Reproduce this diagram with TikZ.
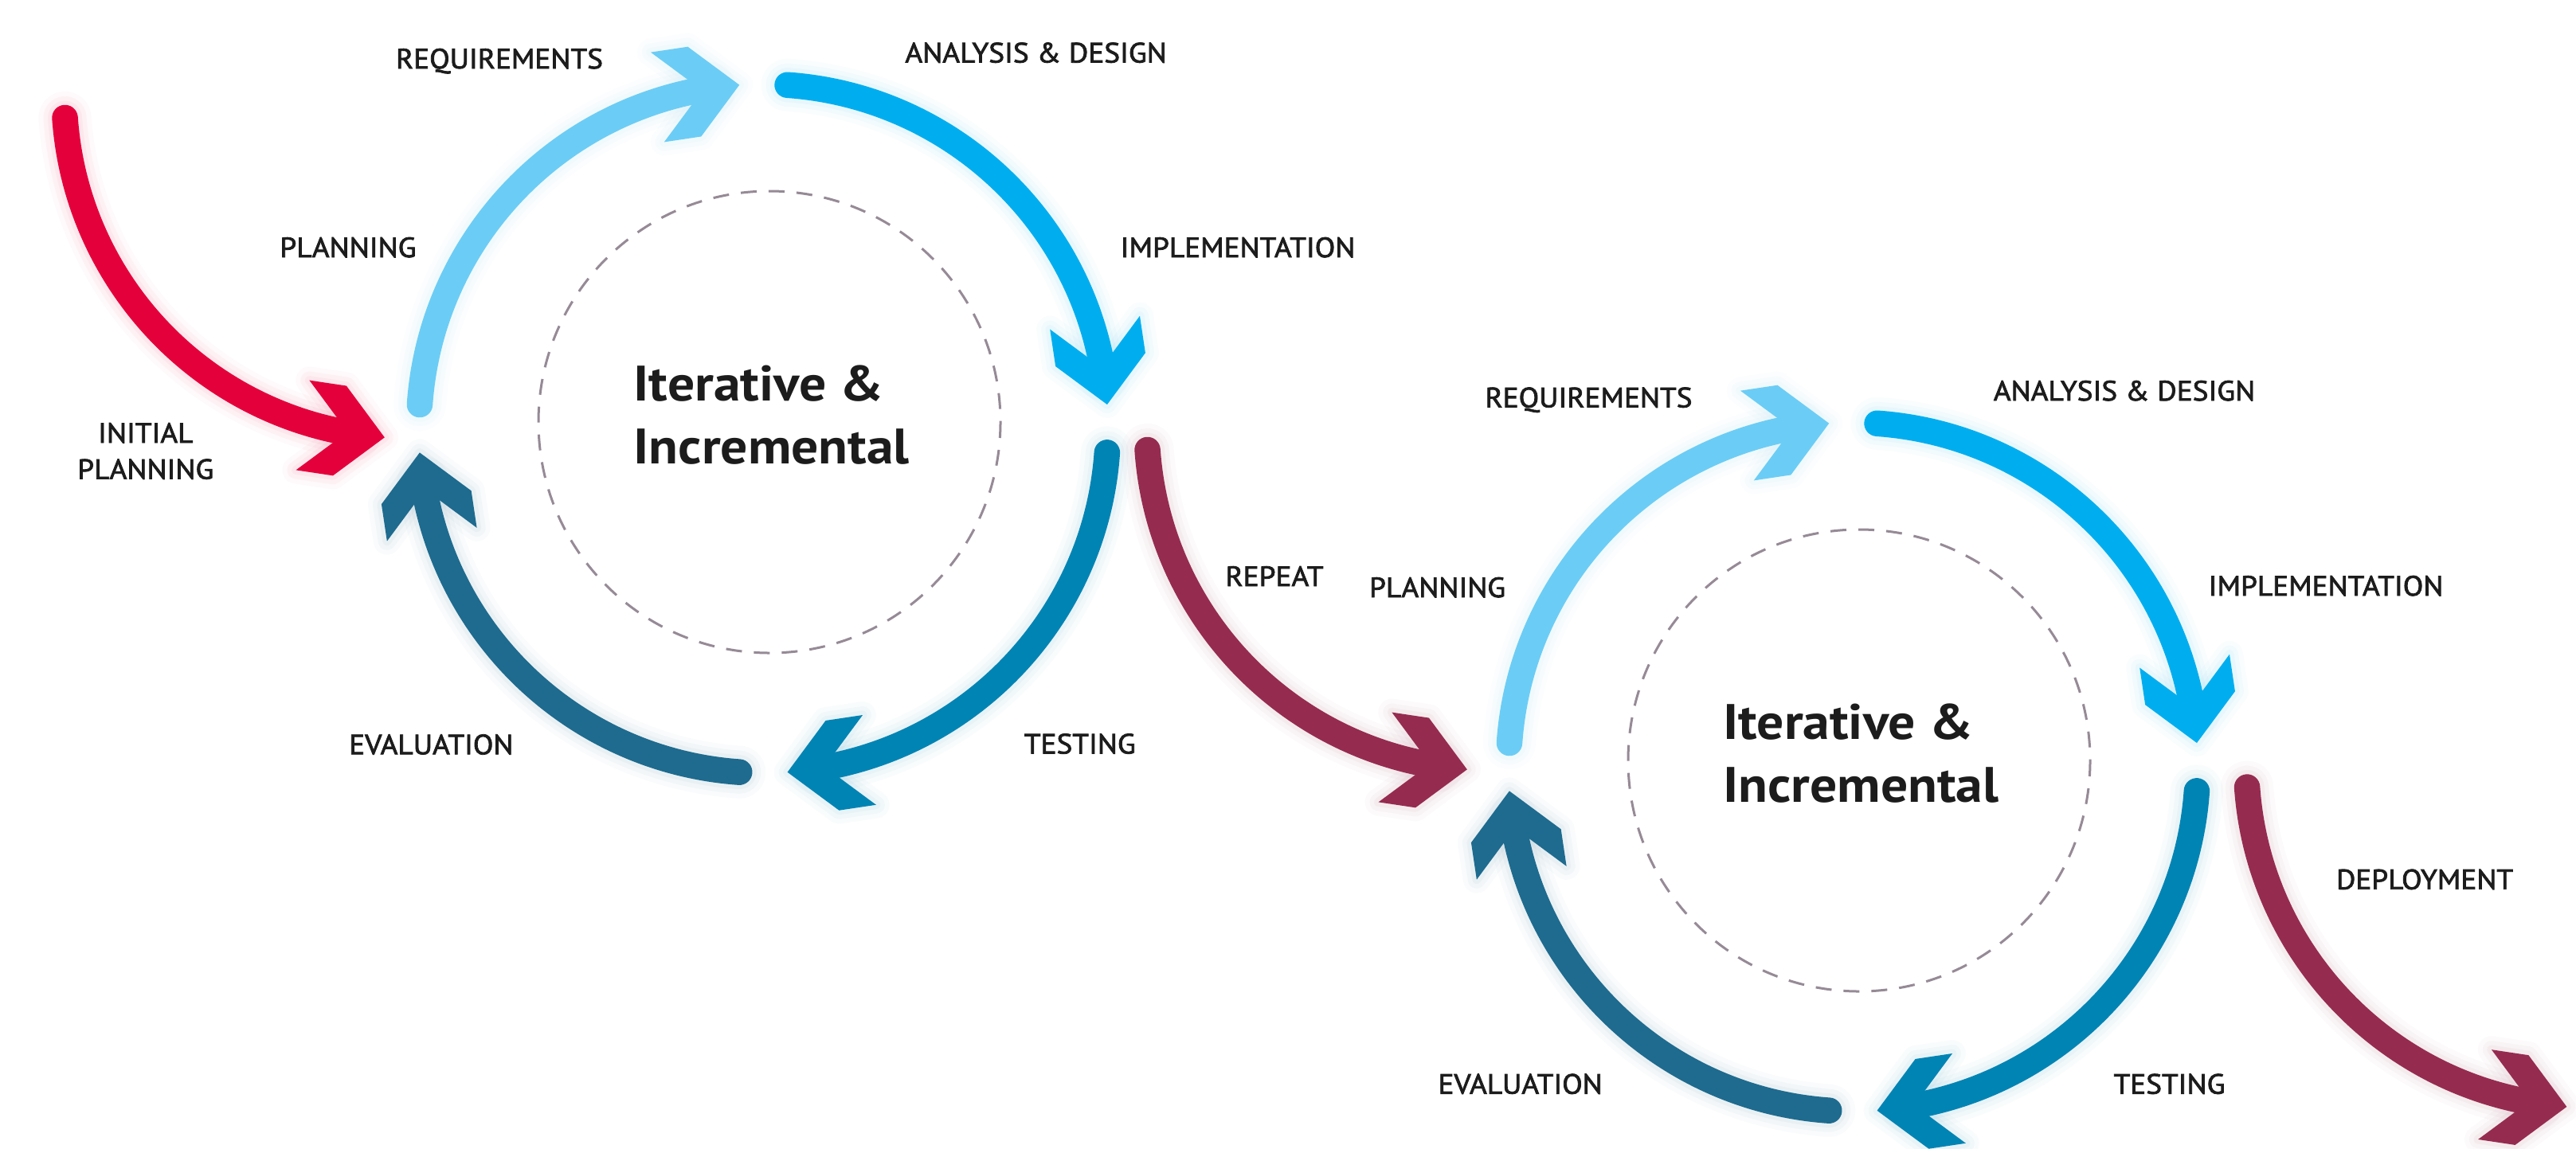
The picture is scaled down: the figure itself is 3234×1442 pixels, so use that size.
\documentclass[tikz,border=0pt]{standalone}
\usepackage{fontspec}
\setmainfont{PT Sans}
\newfontfamily\lblfont[FakeBold=2.2, FakeStretch=1.06]{PT Sans}
\newfontfamily\ttlfont[FakeStretch=1.08]{PT Sans}
\definecolor{cLB}{HTML}{6BCDF5}
\definecolor{cDB}{HTML}{00AEEF}
\definecolor{cTE}{HTML}{0084B4}
\definecolor{cEV}{HTML}{1E6B8F}
\definecolor{cRED}{HTML}{E4003B}
\definecolor{cMAR}{HTML}{962B50}
\definecolor{cDASH}{HTML}{968A96}
\definecolor{cTXT}{HTML}{1C1C1C}
\tikzset{
  arcline/.style={line width=0.325cm, line cap=round},
  glow/.style={preaction={draw=#1, opacity=0.025, line width=0.66cm, line cap=round},
               preaction={draw=#1, opacity=0.03, line width=0.54cm, line cap=round},
               preaction={draw=#1, opacity=0.04, line width=0.43cm, line cap=round}},
  glowfill/.style={preaction={draw=#1, opacity=0.025, line width=0.34cm, line join=round},
                   preaction={draw=#1, opacity=0.03, line width=0.22cm, line join=round},
                   preaction={draw=#1, opacity=0.04, line width=0.11cm, line join=round}},
  lbl/.style={anchor=base, inner sep=0pt, text=cTXT, font=\lblfont\fontsize{10pt}{11pt}\selectfont},
  ttl/.style={anchor=base west, inner sep=0pt, text=cTXT, font=\ttlfont\bfseries\fontsize{17.8pt}{22pt}\selectfont},
  dashcirc/.style={draw=cDASH, line width=0.03cm, dash pattern=on 0.2cm off 0.15cm}
}
% one arc of a cycle: circle of radius 432.5 around the cycle centre
\newcommand\cyclearc[4]{% centre, rotation, colour, name
  \begin{scope}[shift={(#1)}, rotate=#2]
    \coordinate (#4-s) at (184:432.5);
    \coordinate (#4-t) at (266:432.6);
    \draw[arcline, draw=#3, glow=#3] (#4-s) arc[start angle=184, end angle=261, radius=432.5];
    \fill[#3, glowfill=#3, shift={(#4-t)}, rotate=8.5] (0,0) -- (-57,-57) -- (-104,-57) -- (-47,0) -- (-104,57) -- (-57,57) -- cycle;
  \end{scope}}
% entry / repeat / deployment arrow
\newcommand\entryarrow[3]{% centre of its arc, colour, name
  \begin{scope}[shift={(#1)}]
    \coordinate (#3-s) at (176:432.5);
    \coordinate (#3-t) at (94:432.6);
    \draw[arcline, draw=#2, glow=#2] (#3-s) arc[start angle=176, end angle=99, radius=432.5];
    \fill[#2, glowfill=#2, shift={(#3-t)}, rotate=-8.5] (0,0) -- (-57,-57) -- (-104,-57) -- (-47,0) -- (-104,57) -- (-57,57) -- cycle;
  \end{scope}}
\begin{document}
\begin{tikzpicture}[x=0.01cm, y=-0.01cm]
  \path[use as bounding box, fill=white] (0,0) rectangle (3234,1442);
  % centres
  \coordinate (ca1) at (958.4,538.2);
  \coordinate (ca2) at (2326.4,963.2);
  \coordinate (dc1) at (966,530);
  \coordinate (dc2) at (2334,955);
  % dashed circles
  \draw[dashcirc] (dc1) circle[radius=290];
  \draw[dashcirc] (dc2) circle[radius=290];
  % cycle 1
  \cyclearc{ca1}{0}{cLB}{lbA}
  \cyclearc{ca1}{-90}{cDB}{dbA}
  \cyclearc{ca1}{-180}{cTE}{teA}
  \cyclearc{ca1}{90}{cEV}{evA}
  % cycle 2
  \cyclearc{ca2}{0}{cLB}{lbB}
  \cyclearc{ca2}{-90}{cDB}{dbB}
  \cyclearc{ca2}{-180}{cTE}{teB}
  \cyclearc{ca2}{90}{cEV}{evB}
  % entry / repeat / deploy arrows
  \entryarrow{513,117.8}{cRED}{init}
  \entryarrow{1872,534.8}{cMAR}{rep}
  \entryarrow{3252.5,958.4}{cMAR}{dep}
  % titles
  \node[ttl] (t1a) at (795,503) {Iterative \&};
  \node[ttl] (t1b) at (795,582) {Incremental};
  \node[ttl] (t2a) at (2162.5,928.5) {Iterative \&};
  \node[ttl] (t2b) at (2162.5,1007.5) {Incremental};
  % labels cycle 1
  \node[lbl] (req1) at (627,86) {REQUIREMENTS};
  \node[lbl] (ana1) at (1300.6,78.5) {ANALYSIS \& DESIGN};
  \node[lbl] (imp1) at (1554,323) {IMPLEMENTATION};
  \node[lbl] (pla1) at (437,323) {PLANNING};
  \node[lbl] (ini1) at (182.8,556) {INITIAL};
  \node[lbl] (ini2) at (182.8,601.5) {PLANNING};
  \node[lbl] (eva1) at (541.3,947.3) {EVALUATION};
  \node[lbl] (tes1) at (1355.8,946.4) {TESTING};
  \node[lbl] (rpt) at (1600,736) {REPEAT};
  % labels cycle 2
  \node[lbl] (req2) at (1994.5,511.5) {REQUIREMENTS};
  \node[lbl] (ana2) at (2667,503) {ANALYSIS \& DESIGN};
  \node[lbl] (imp2) at (2920,748) {IMPLEMENTATION};
  \node[lbl] (pla2) at (1804.6,750) {PLANNING};
  \node[lbl] (eva2) at (1908.6,1373.6) {EVALUATION};
  \node[lbl] (tes2) at (2723.5,1373.6) {TESTING};
  \node[lbl] (dep) at (3044,1116.7) {DEPLOYMENT};
\end{tikzpicture}
\end{document}
